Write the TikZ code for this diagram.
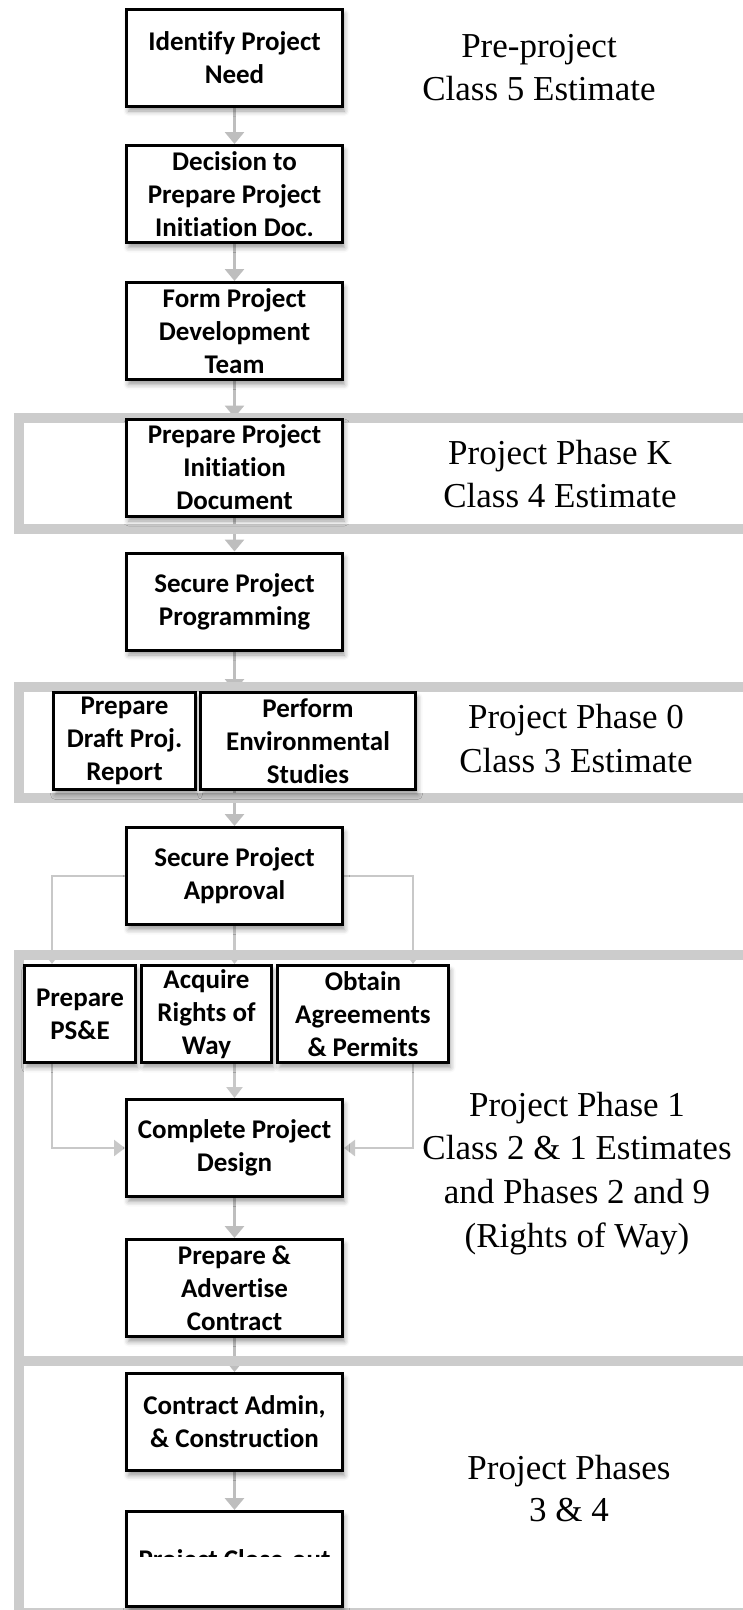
\documentclass[tikz,border=0pt]{standalone}
\usepackage{fontspec}
\setmainfont{Liberation Serif}
\newfontfamily\boxfont{Carlito}[Ligatures=NoCommon]
\usetikzlibrary{arrows.meta,shadows.blur}

\pgfdeclarelayer{conn}
\pgfdeclarelayer{band}
\pgfsetlayers{conn,band,main}

\definecolor{bandgray}{RGB}{204,204,204}
\definecolor{flowgray}{RGB}{190,190,190}
\definecolor{sidegray}{RGB}{200,200,200}

\tikzset{
  stepbox/.style={draw=black, line width=3pt, fill=white, inner sep=0pt,
    align=center, minimum width=216pt, minimum height=97pt,
    font=\boxfont\bfseries\fontsize{27}{33}\selectfont,
    blur shadow={shadow xshift=2pt, shadow yshift=-5pt,
      shadow blur radius=5pt, shadow opacity=40}},
  flow/.style={draw=flowgray, line width=3.5pt,
    -{Triangle[width=19pt,length=12pt]}},
  side/.style={draw=sidegray, line width=2.5pt,
    -{Triangle[width=16pt,length=11pt]}},
  band/.style={draw=bandgray, line width=10pt},
  phase/.style={anchor=base, inner sep=0pt, font=\fontsize{35}{43}\selectfont},
}

\begin{document}
\begin{tikzpicture}[x=1pt, y=-1pt]
\useasboundingbox (0,0) rectangle (743,1610);

% --- process steps ---
\node[stepbox] (ident)  at (234.5,57.5)  {Identify Project\\Need};
\node[stepbox] (decide) at (234.5,194)   {Decision to\\Prepare Project\\Initiation Doc.};
\node[stepbox] (team)   at (234.5,331)   {Form Project\\Development\\Team};
\node[stepbox] (pid)    at (234.5,467.5) {Prepare Project\\Initiation\\Document};
\node[stepbox] (prog)   at (234.5,601.5) {Secure Project\\Programming};
\node[stepbox, minimum width=142pt] (draft) at (124.5,741) {Prepare\\Draft Proj.\\Report};
\node[stepbox, minimum width=215pt] (env)   at (308,741)   {Perform\\Environmental\\Studies};
\node[stepbox] (approval) at (234.5,876) {Secure Project\\Approval};
\node[stepbox, minimum width=111pt] (pse)   at (80,1014)    {Prepare\\PS\&E};
\node[stepbox, minimum width=130pt] (row)   at (206.5,1014) {Acquire\\Rights of\\Way};
\node[stepbox, minimum width=171pt] (agree) at (363,1014)   {Obtain\\Agreements\\\& Permits};
\node[stepbox] (design) at (234.5,1148)  {Complete Project\\Design};
\node[stepbox] (advert) at (234.5,1288)  {Prepare \&\\Advertise\\Contract};
\node[stepbox] (admin)  at (234.5,1422)  {Contract Admin,\\\& Construction};
\node[stepbox, minimum height=95pt] (close) at (234.5,1559) {};

% label of the last step, cut off by its text frame
\begin{scope}
  \clip (120,1500) rectangle (350,1556);
  \node[anchor=base, inner sep=0pt, font=\boxfont\bfseries\fontsize{27}{33}\selectfont]
    (closetext) at (234.5,1568.5) {Project Close-out};
\end{scope}

% --- phase labels ---
\node[phase] (pre1) at (539,57)  {Pre-project};
\node[phase] (pre2) at (539,100) {Class 5 Estimate};
\node[phase] (k1) at (560,464) {Project Phase K};
\node[phase] (k2) at (560,507) {Class 4 Estimate};
\node[phase] (z1) at (576,728) {Project Phase 0};
\node[phase] (z2) at (576,772) {Class 3 Estimate};
\node[phase] (o1) at (577,1116) {Project Phase 1};
\node[phase] (o2) at (577,1159) {Class 2 \& 1 Estimates};
\node[phase] (o3) at (577,1203) {and Phases 2 and 9};
\node[phase] (o4) at (577,1247) {(Rights of Way)};
\node[phase] (c1) at (569,1479) {Project Phases};
\node[phase] (c2) at (569,1521) {3 \& 4};

% --- phase frames ---
\begin{pgfonlayer}{band}
  \draw[band] (18.5,418) rectangle (800,529);
  \draw[band] (18.5,687) rectangle (800,798);
  \draw[band] (18.5,954.5) rectangle (800,1360.5);
  \draw[band] (18.5,1360.5) rectangle (800,1613);
\end{pgfonlayer}

% --- connectors ---
\begin{pgfonlayer}{conn}
  \draw[flow] (ident) -- (decide);
  \draw[flow] (decide) -- (team);
  \draw[flow] (team) -- (pid);
  \draw[flow] (pid) -- (prog);
  \draw[flow] (prog.south) -- (prog.south |- env.north);
  \draw[flow] (approval.north |- env.south) -- (approval.north);
  \draw[side] (approval.west) -| ([xshift=29pt]pse.north west);
  \draw[side] (approval.east) -| ([xshift=-37pt]agree.north east);
  \draw[side] (approval.south) -- (approval.south |- row.north);
  \draw[side] ([xshift=29pt]pse.south west) |- (design.west);
  \draw[side] ([xshift=-37pt]agree.south east) |- (design.east);
  \draw[side] (design.north |- row.south) -- (design.north);
  \draw[flow] (design) -- (advert);
  \draw[flow] (advert) -- (admin);
  \draw[flow] (admin) -- (close);
\end{pgfonlayer}
\end{tikzpicture}
\end{document}
